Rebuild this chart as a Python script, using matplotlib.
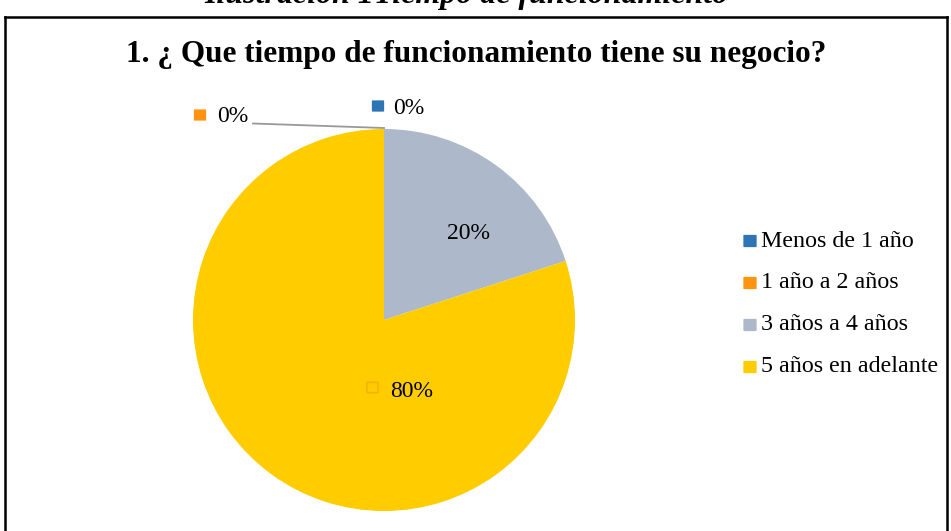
import matplotlib
matplotlib.use("Agg")
import matplotlib.pyplot as plt
from matplotlib.patches import FancyBboxPatch

categories = ["Menos de 1 año", "1 año a 2 años", "3 años a 4 años", "5 años en adelante"]
values = [0, 0, 20, 80]
colors = ["#2E75B6", "#FF9410", "#ADB9CA", "#FFCC00"]
title = "1. ¿ Que tiempo de funcionamiento tiene su negocio?"
caption = "Ilustración 1Tiempo de funcionamiento"

plt.rcParams["font.family"] = ["Liberation Serif", "DejaVu Serif"]

W, H = 951, 531
fig = plt.figure(figsize=(W / 100, H / 100), dpi=100)


def fx(px):
    return px / W


def fy(py):
    return 1 - py / H


def square(xc, yc, size, color, fill=True):
    s = size
    p = FancyBboxPatch((fx(xc - s / 2 + 1), fy(yc + s / 2 - 1)), fx(s - 2), (s - 2) / H,
                       boxstyle="round,pad=0.0012", transform=fig.transFigure,
                       fc=color if fill else "none", ec="none" if fill else color,
                       lw=0 if fill else 1.2)
    fig.add_artist(p)


# outer border (bottom edge off-canvas)
for xs, ys in [([5, 5], [17, 540]), ([947, 947], [17, 540]), ([5, 947], [17, 17])]:
    fig.add_artist(plt.Line2D([fx(v) for v in xs], [fy(v) for v in ys],
                              transform=fig.transFigure, color="black", lw=1.8))

# caption (clipped at top, as in the reference)
fig.text(fx(466), fy(3), caption, ha="center", va="baseline", fontsize=23,
         fontweight="bold", fontstyle="italic")

# title
fig.text(fx(476), fy(62), title, ha="center", va="baseline", fontsize=22.5, fontweight="bold")

# pie axes: centre (384,320), radius 191 px
cx, cy, r = 384, 320, 191
ax = fig.add_axes([fx(cx - r), fy(cy + r), fx(2 * r), fy(cy - r) - fy(cy + r)])
wedges, _ = ax.pie(values, colors=colors, startangle=90, counterclock=False,
                   radius=1, wedgeprops=dict(linewidth=0))
ax.set_xlim(-1, 1)
ax.set_ylim(-1, 1)
ax.set_aspect("auto")
ax.axis("off")

total = sum(values)
pcts = [f"{v / total * 100:.0f}%" for v in values]

# data labels inside larger slices
ax.text(0.33, 0.455, pcts[2], ha="left", va="center", fontsize=17)
ax.text(0.031, -0.372, pcts[3], ha="left", va="center", fontsize=17)
square(372.5, 387.5, 11, "#F5B400", fill=False)

# 0% labels outside
square(378, 106, 12, colors[0])
fig.text(fx(393), fy(108), pcts[0], ha="left", va="center", fontsize=17)
square(200, 115, 12, colors[1])
fig.text(fx(217), fy(117), pcts[1], ha="left", va="center", fontsize=17)
fig.add_artist(plt.Line2D([fx(253), fx(384)], [fy(123.5), fy(128)], transform=fig.transFigure,
                          color="#999999", lw=1.3))

# legend
leg_y = [241, 283, 325, 367]
for name, col, y in zip(categories, colors, leg_y):
    square(750, y, 13, col)
    fig.text(fx(761), fy(y), name, ha="left", va="center", fontsize=17.3)

fig.savefig("out.png", dpi=100)
